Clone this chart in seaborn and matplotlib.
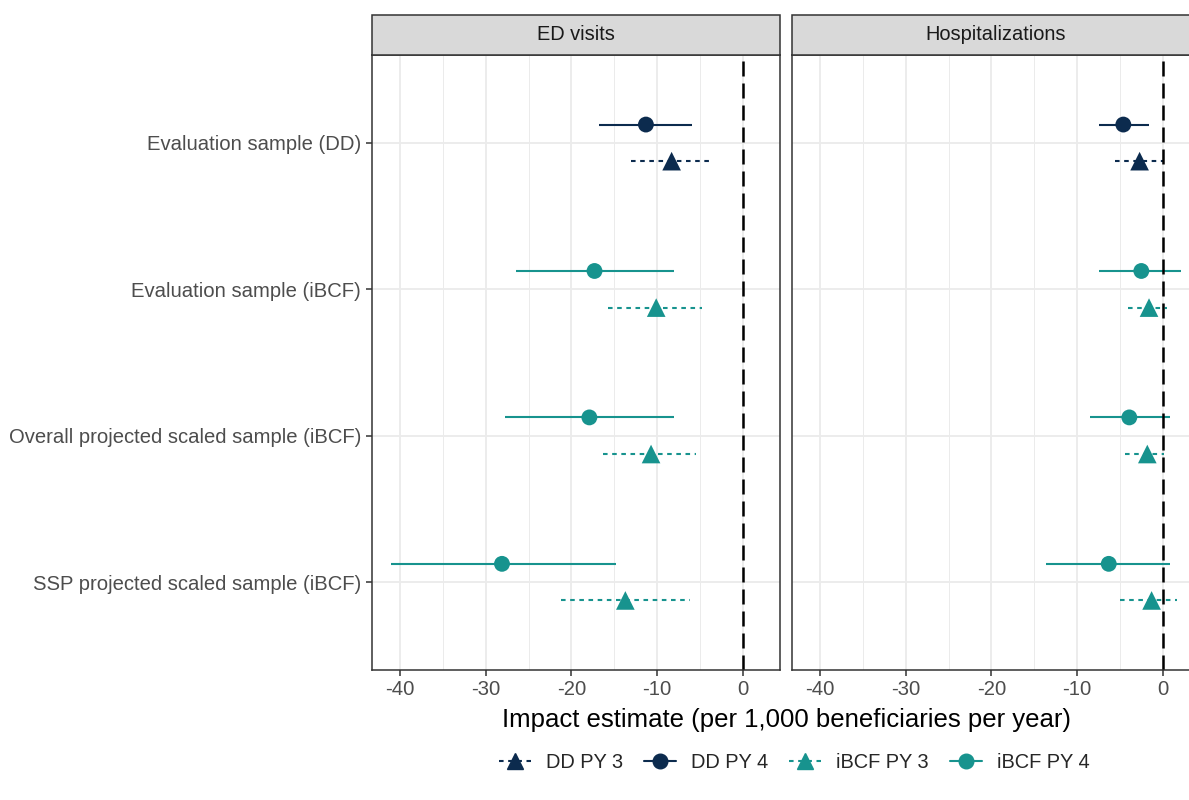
import numpy as np
import pandas as pd
import matplotlib
matplotlib.use("Agg")
import matplotlib.pyplot as plt
from matplotlib.lines import Line2D
from matplotlib.patches import Rectangle
from matplotlib.ticker import MultipleLocator
import seaborn as sns

# ---- data -------------------------------------------------------------
categories = [
    "Evaluation sample (DD)",
    "Evaluation sample (iBCF)",
    "Overall projected scaled sample (iBCF)",
    "SSP projected scaled sample (iBCF)",
]
model = ["DD", "iBCF", "iBCF", "iBCF"]
outcomes = ["ED visits", "Hospitalizations"]

ed_py4 = [-11.3, -17.3, -17.9, -28.1]
ed_py4_lo = [-16.8, -26.5, -27.7, -41.1]
ed_py4_hi = [-5.9, -8.0, -8.0, -14.8]
ed_py3 = [-8.3, -10.1, -10.7, -13.7]
ed_py3_lo = [-13.0, -15.7, -16.3, -21.2]
ed_py3_hi = [-3.6, -4.8, -5.4, -6.2]

hosp_py4 = [-4.6, -2.5, -3.9, -6.3]
hosp_py4_lo = [-7.4, -7.4, -8.5, -13.6]
hosp_py4_hi = [-1.6, 2.1, 0.8, 0.8]
hosp_py3 = [-2.7, -1.6, -1.8, -1.3]
hosp_py3_lo = [-5.6, -4.1, -4.4, -5.0]
hosp_py3_hi = [0.1, 0.5, 0.2, 1.7]

series_order = ["DD PY 3", "DD PY 4", "iBCF PY 3", "iBCF PY 4"]

# ---- long table -------------------------------------------------------
rows = []
blocks = {
    ("ED visits", 4): (ed_py4, ed_py4_lo, ed_py4_hi),
    ("ED visits", 3): (ed_py3, ed_py3_lo, ed_py3_hi),
    ("Hospitalizations", 4): (hosp_py4, hosp_py4_lo, hosp_py4_hi),
    ("Hospitalizations", 3): (hosp_py3, hosp_py3_lo, hosp_py3_hi),
}
for (outcome, py), (est, lo, hi) in blocks.items():
    for i, cat in enumerate(categories):
        rows.append(dict(outcome=outcome, category=cat, cat_idx=i, py=py,
                         series=f"{model[i]} PY {py}",
                         est=est[i], lo=lo[i], hi=hi[i]))
df = pd.DataFrame(rows)
dodge = {4: -0.125, 3: 0.125}
df["ypos"] = df["cat_idx"] + df["py"].map(dodge)

# ---- styling ----------------------------------------------------------
navy = "#0C2B4E"
teal = "#17938E"
palette = {"DD PY 3": navy, "DD PY 4": navy, "iBCF PY 3": teal, "iBCF PY 4": teal}
markers = {"DD PY 3": "^", "DD PY 4": "o", "iBCF PY 3": "^", "iBCF PY 4": "o"}
linestyles = {3: (0, (2.2, 2.2)), 4: "-"}

sns.set_theme(style="white")
plt.rcParams["font.family"] = ["Liberation Sans", "DejaVu Sans"]
plt.rcParams["axes.unicode_minus"] = False

W, H = 1189, 800
fig = plt.figure(figsize=(W / 100, H / 100), dpi=100)

panel_w = 408 / W
panel_bottom = (H - 670) / H
panel_h = 615 / H
lefts = [372 / W, 792 / W]
grid_col = "#EBEBEB"
frame_col = "#333333"
tick_col = "#4D4D4D"

axes = []
for k, outcome in enumerate(outcomes):
    ax = fig.add_axes([lefts[k], panel_bottom, panel_w, panel_h])
    axes.append(ax)
    sub = df[df["outcome"] == outcome]

    # confidence intervals
    for py in (4, 3):
        s = sub[sub["py"] == py]
        ax.hlines(s["ypos"], s["lo"], s["hi"],
                  colors=[palette[v] for v in s["series"]],
                  linestyles=[linestyles[py]], linewidth=1.5, zorder=3)

    # point estimates
    for py, size in ((4, 130), (3, 180)):
        s = sub[sub["py"] == py]
        sns.scatterplot(data=s, x="est", y="ypos", hue="series", style="series",
                        palette=palette, markers=markers, s=size, linewidth=0,
                        ax=ax, legend=False, zorder=4)

    ax.axvline(0, color="black", linewidth=1.8, linestyle=(0, (6, 2.8)), zorder=6)

    ax.set_xlim(-43.27, 4.35)
    ax.set_ylim(3.6, -0.6)
    ax.xaxis.set_major_locator(MultipleLocator(10))
    ax.xaxis.set_minor_locator(MultipleLocator(5))
    ax.set_yticks(range(len(categories)))
    ax.grid(True, which="major", color=grid_col, linewidth=1.3)
    ax.grid(True, which="minor", axis="x", color=grid_col, linewidth=0.7)
    ax.set_axisbelow(True)
    ax.set_xlabel("")
    ax.set_ylabel("")
    for sp in ax.spines.values():
        sp.set_color(frame_col)
        sp.set_linewidth(1.1)
        sp.set_zorder(7)
    ax.tick_params(axis="both", which="major", length=4, width=1.1, color=frame_col,
                   labelcolor=tick_col, labelsize=14.6, pad=3, bottom=True, left=(k == 0))
    ax.tick_params(axis="x", which="minor", length=0)
    if k == 0:
        ax.set_yticklabels(categories)
        ax.tick_params(axis="y", pad=4)
    else:
        ax.set_yticklabels([])
        ax.tick_params(axis="y", left=False)

    # facet strip
    strip = Rectangle((lefts[k], (H - 55) / H), panel_w, 40 / H, transform=fig.transFigure,
                      facecolor="#D9D9D9", edgecolor=frame_col, linewidth=1.1, clip_on=False)
    fig.add_artist(strip)
    fig.text(lefts[k] + panel_w / 2, (H - 35) / H, outcome, ha="center", va="center",
             fontsize=14.4, color="#1A1A1A")

fig.text(786 / W, 1 - 720 / H, "Impact estimate (per 1,000 beneficiaries per year)",
         ha="center", va="center", fontsize=18.5, color="black")

handles = []
for name in series_order:
    py = 3 if name.endswith("3") else 4
    handles.append(Line2D([], [], color=palette[name], marker=markers[name],
                          markersize=11 if py == 3 else 10.5,
                          linestyle=linestyles[py], linewidth=1.5))
fig.legend(handles, series_order, loc="center", bbox_to_anchor=(794 / W, 1 - 762 / H),
           ncol=4, frameon=False, fontsize=14.4, handlelength=1.6, handletextpad=0.75,
           columnspacing=1.05)

fig.savefig("out.png", dpi=100)
